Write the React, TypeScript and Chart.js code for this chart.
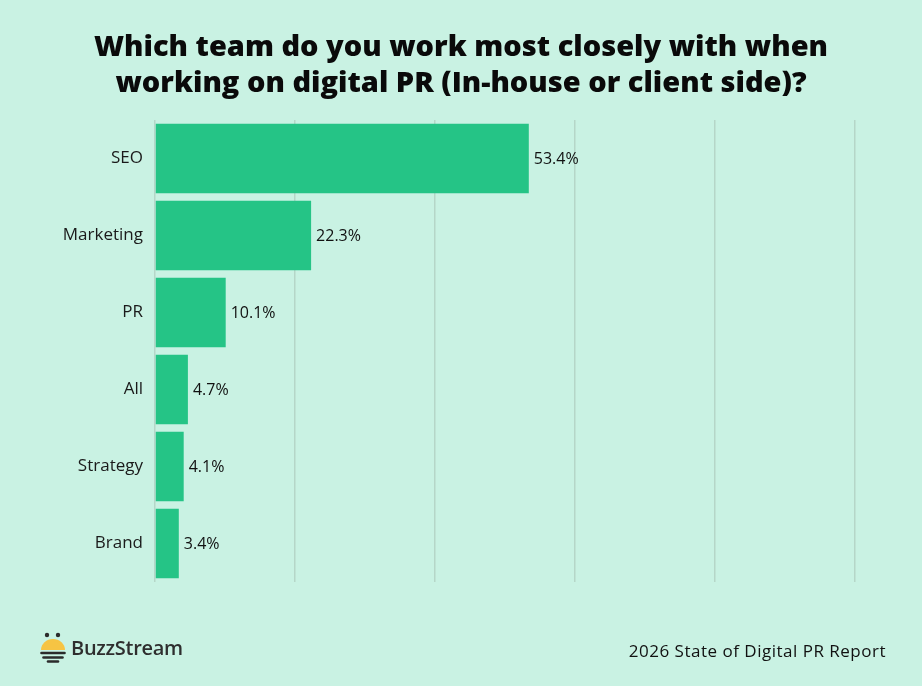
import React, { useEffect, useRef } from "react";
import { Chart, registerables } from "chart.js";

Chart.register(...registerables);

const categories = ["SEO", "Marketing", "PR", "All", "Strategy", "Brand"];
const values = [53.4, 22.3, 10.1, 4.7, 4.1, 3.4];
const xTicks = [0, 20, 40, 60, 80, 100];

const FONT = "'Open Sans', 'Noto Sans', sans-serif";

const valueLabels = {
  id: "valueLabels",
  afterDatasetsDraw(chart: any) {
    const ctx = chart.ctx;
    const meta = chart.getDatasetMeta(0);
    ctx.save();
    ctx.font = `500 16px ${FONT}`;
    ctx.fillStyle = "#111";
    ctx.textAlign = "left";
    ctx.textBaseline = "middle";
    meta.data.forEach((bar: any, i: number) => {
      ctx.fillText(values[i].toFixed(1) + "%", bar.x + 5, bar.y + 1);
    });
    ctx.restore();
  },
};

export default function App() {
  const ref = useRef<HTMLCanvasElement>(null);
  useEffect(() => {
    document.body.style.margin = "0";
    const chart = new Chart(ref.current!, {
      type: "bar",
      data: {
        labels: categories,
        datasets: [
          {
            data: values,
            backgroundColor: "#25c486",
            borderWidth: 0,
            barPercentage: 0.9,
            categoryPercentage: 1,
          },
        ],
      },
      options: {
        indexAxis: "y",
        animation: false,
        responsive: false,
        devicePixelRatio: 1,
        layout: { padding: { top: 120, bottom: 104, right: 67, left: 0 } },
        plugins: { legend: { display: false }, tooltip: { enabled: false } },
        scales: {
          x: {
            min: 0,
            max: 100,
            afterBuildTicks: (s: any) => {
              s.ticks = xTicks.map((v) => ({ value: v }));
            },
            ticks: { display: false },
            grid: { color: "#b5d6c8", lineWidth: 1.5, drawTicks: false },
            border: { display: false },
            afterFit: (s: any) => {
              s.height = 0;
            },
          },
          y: {
            grid: { display: false, drawTicks: false },
            border: { display: false },
            ticks: {
              color: "#1a1a1a",
              font: { family: FONT, size: 17, weight: 500 as any },
              padding: 12,
            },
            afterFit: (s: any) => {
              s.width = 155;
            },
          },
        },
      },
      plugins: [valueLabels],
    });
    return () => chart.destroy();
  }, []);

  return (
    <div
      style={{
        position: "relative",
        width: 922,
        height: 686,
        background: "#c9f2e3",
        fontFamily: FONT,
        overflow: "hidden",
      }}
    >
      <canvas ref={ref} width={922} height={686} style={{ position: "absolute", left: 0, top: 0 }} />
      <div
        style={{
          position: "absolute",
          top: 27,
          left: 0,
          width: 922,
          textAlign: "center",
          fontSize: 29,
          fontWeight: 800,
          letterSpacing: 0,
          lineHeight: "36px",
          color: "#0a0a0a",
        }}
      >
        Which team do you work most closely with when
        <br />
        working on digital PR (In-house or client side)?
      </div>
      <div style={{ position: "absolute", left: 40, top: 631, display: "flex", alignItems: "center" }}>
        <svg width="26" height="32" viewBox="0 0 26 32">
          <circle cx="7" cy="4" r="2.2" fill="#2b2b2b" />
          <circle cx="18" cy="4" r="2.2" fill="#2b2b2b" />
          <path d="M1 19 A12 11 0 0 1 25 19 Z" fill="#f6c443" />
          <path d="M1.5 22 H24.5" stroke="#2b2b2b" strokeWidth="2.6" strokeLinecap="round" />
          <path d="M3.5 26.5 H22.5" stroke="#2b2b2b" strokeWidth="2.6" strokeLinecap="round" />
          <path d="M8 30.5 H18" stroke="#2b2b2b" strokeWidth="2.6" strokeLinecap="round" />
        </svg>
        <span style={{ marginLeft: 5, fontSize: 20, fontWeight: 600, color: "#2e2e2e", letterSpacing: -0.3 }}>
          BuzzStream
        </span>
      </div>
      <div
        style={{
          position: "absolute",
          right: 36,
          top: 639,
          fontSize: 17,
          fontWeight: 500,
          letterSpacing: 0.5,
          color: "#111",
        }}
      >
        2026 State of Digital PR Report
      </div>
    </div>
  );
}
